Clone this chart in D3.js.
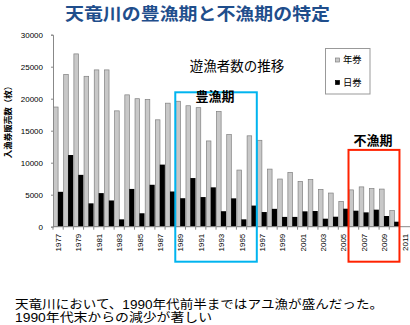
<!DOCTYPE html>
<html><head><meta charset="utf-8">
<script src="https://cdn.jsdelivr.net/npm/d3@7"></script>
<style>
html,body{margin:0;padding:0;background:#fff;}
svg{display:block;}
</style>
</head><body>
<svg id="c" width="410" height="325"></svg>
<script>
const years = [1977,1978,1979,1980,1981,1982,1983,1984,1985,1986,1987,1988,1989,1990,1991,1992,1993,1994,1995,1996,1997,1998,1999,2000,2001,2002,2003,2004,2005,2006,2007,2008,2009,2010,2011];
const nenken = [18700,23800,27000,23500,24500,24500,18100,20600,20000,19900,16700,19300,19600,18900,18600,13400,18000,14400,8850,14200,13500,9000,7450,8490,7080,7370,5830,5260,3960,5750,6220,5960,5880,2550,null];
const nikken = [5450,11200,8100,3650,5250,4100,1150,5900,2100,6550,9700,5500,4450,7600,4630,6150,2420,4430,1150,3300,2290,2790,1530,1530,2400,2450,1250,1560,2810,2500,2240,2660,1670,780,null];
const yTicks = [0,5000,10000,15000,20000,25000,30000];
const xTickLabels = years.filter(y => y % 2 === 1);
const seriesNames = ["年券","日券"];
const title = "天竜川の豊漁期と不漁期の特定";
const subtitle = "遊漁者数の推移";
const yLabel = "入漁券販売数（枚）";
const goodPeriod = {label:"豊漁期", from:1989, to:1996, top:21000};
const badPeriod = {label:"不漁期", from:2006, to:2010, top:12000};
const note = ["天竜川において、1990年代前半まではアユ漁が盛んだった。","1990年代末からの減少が著しい"];

const svg = d3.select("#c");
const JP = "'Noto Sans CJK JP','Noto Sans',sans-serif";
const LAT = "'Liberation Sans',Arial,sans-serif";

const x = d3.scaleBand().domain(years).range([53, 53 + 35*10.19]).padding(0);
const y = d3.scaleLinear().domain([0,30000]).range([226.7, 34.7]);
const bw = x.bandwidth();

// title
svg.append("text").attr("x",197.5).attr("y",19.9).attr("text-anchor","middle")
  .attr("font-family",JP).attr("font-weight","bold").attr("font-size",17.1)
  .attr("textLength",265).attr("lengthAdjust","spacingAndGlyphs")
  .attr("fill","#1f4e8c").text(title);

// y axis
const gy = svg.append("g").attr("transform","translate(53,0)")
  .call(d3.axisLeft(y).tickValues(yTicks).tickSize(2).tickPadding(8).tickFormat(d3.format("d")));
gy.select(".domain").attr("stroke","#888");
gy.selectAll(".tick line").attr("stroke","#888");
gy.selectAll("text").attr("font-family",LAT).attr("font-size",8).attr("fill","#000");

// bars
const data = years.map((yr,i)=>({yr, a:nenken[i], b:nikken[i]}));
svg.append("g").selectAll("rect").data(data.filter(d=>d.a!=null)).join("rect")
  .attr("x",d=>x(d.yr)+0.5).attr("width",bw*0.45)
  .attr("y",d=>y(d.a)).attr("height",d=>y(0)-y(d.a))
  .attr("fill","#c8c8c8").attr("stroke","#808080").attr("stroke-width",0.7);
svg.append("g").selectAll("rect").data(data.filter(d=>d.b!=null)).join("rect")
  .attr("x",d=>x(d.yr)+bw*0.48).attr("width",bw*0.5)
  .attr("y",d=>y(d.b)).attr("height",d=>y(0)-y(d.b))
  .attr("fill","#000");

// x axis
const gx = svg.append("g").attr("transform",`translate(0,${y(0)})`);
gx.append("line").attr("x1",53).attr("x2",410).attr("stroke","#888");
gx.selectAll("line.t").data(years).join("line").attr("class","t")
  .attr("x1",d=>x(d)).attr("x2",d=>x(d)).attr("y1",0).attr("y2",3).attr("stroke","#888");
gx.selectAll("text").data(xTickLabels).join("text")
  .attr("transform",d=>`translate(${x(d)+bw/2+3},7) rotate(-90)`)
  .attr("text-anchor","end").attr("font-family",LAT).attr("font-size",8).attr("fill","#000")
  .text(d=>d);

// y label
svg.append("text").attr("transform","translate(11,120) rotate(-90)").attr("text-anchor","middle")
  .attr("font-family",JP).attr("font-weight","bold").attr("font-size",8.5).attr("fill","#000").text(yLabel);

// subtitle
svg.append("text").attr("x",237).attr("y",70.5).attr("text-anchor","middle")
  .attr("font-family",JP).attr("font-size",13.5).attr("fill","#000").text(subtitle);

// legend
const lg = svg.append("g");
lg.append("rect").attr("x",325.5).attr("y",48.5).attr("width",44.5).attr("height",45.5)
  .attr("fill","#fff").attr("stroke","#999").attr("stroke-width",1);
[{c:"#c8c8c8",s:"#808080",yy:60},{c:"#000",s:"#000",yy:82.5}].forEach((d,i)=>{
  lg.append("rect").attr("x",335.5).attr("y",d.yy-2).attr("width",4).attr("height",4)
    .attr("fill",d.c).attr("stroke",d.s).attr("stroke-width",0.7);
  lg.append("text").attr("x",343).attr("y",d.yy+3.3).attr("font-family",JP).attr("font-size",9.3)
    .attr("fill","#000").text(seriesNames[i]);
});

// period boxes
function period(p,color,lx,ly){
  const x0 = x(p.from), x1 = x(p.to)+bw;
  svg.append("rect").attr("x",x0).attr("y",y(p.top)).attr("width",x1-x0).attr("height",y(0)+35-y(p.top))
    .attr("fill","none").attr("stroke",color).attr("stroke-width",2);
  svg.append("text").attr("x",lx).attr("y",ly).attr("text-anchor","middle")
    .attr("font-family",JP).attr("font-weight","bold").attr("font-size",13).attr("fill","#000").text(p.label);
}
period(goodPeriod,"#00b4ef",215,100.5);
period(badPeriod,"#ff2200",373,144.5);

// note
const noteLens = [368, 197];
note.forEach((t,i)=>{
  svg.append("text").attr("x",15).attr("y",308.6+i*13.4)
    .attr("font-family","'Liberation Sans','Noto Sans CJK JP',sans-serif").attr("font-size",12.2)
    .attr("textLength",noteLens[i]).attr("lengthAdjust","spacingAndGlyphs")
    .attr("fill","#000").text(t);
});
</script>
</body></html>
